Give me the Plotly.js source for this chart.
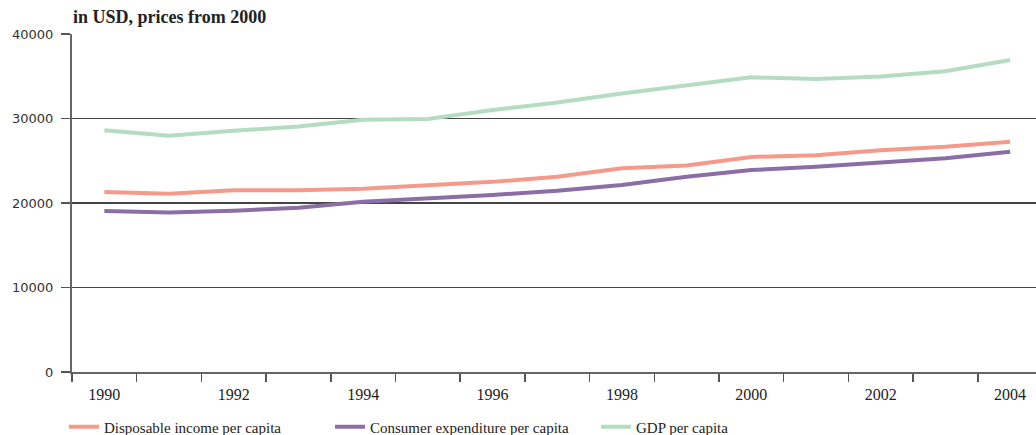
<!DOCTYPE html>
<html>
<head>
<meta charset="utf-8">
<script src="https://cdn.plot.ly/plotly-3.0.1.min.js"></script>
<style>html,body{margin:0;padding:0;background:#fff;}#chart{width:1036px;height:435px;}</style>
</head>
<body>
<div id="chart"></div>
<script>
const years = [1990,1991,1992,1993,1994,1995,1996,1997,1998,1999,2000,2001,2002,2003,2004];
const disposableIncome = [21300,21100,21500,21500,21700,22100,22500,23100,24100,24450,25450,25650,26250,26650,27250];
const consumerExpenditure = [19050,18870,19090,19450,20150,20500,20950,21450,22130,23100,23900,24300,24750,25300,26070];
const gdpPerCapita = [28600,27950,28550,29050,29850,29950,31000,31900,32950,33900,34870,34680,34970,35600,36920];
const seriesNames = ["Disposable income per capita","Consumer expenditure per capita","GDP per capita"];
const yTickVals = [0,10000,20000,30000,40000];
const yTickText = ["0","10000","20000","30000","40000"];
const xLabelYears = [1990,1992,1994,1996,1998,2000,2002,2004];
const xTickBounds = [1989.5,1990.5,1991.5,1992.5,1993.5,1994.5,1995.5,1996.5,1997.5,1998.5,1999.5,2000.5,2001.5,2002.5,2003.5];
const titleText = "in USD, prices from 2000";

const colors = ["#f59a8a","#8b6ea6","#b3dcc0"];
const serif = "Liberation Serif, serif";
const xRange = [1989.5, 2004.4];

const traces = [disposableIncome, consumerExpenditure, gdpPerCapita].map((v,i)=>({
  x: years, y: v, type: "scatter", mode: "lines", name: seriesNames[i],
  line: {color: colors[i], width: 4}
}));
traces.push({x: years, y: years.map(()=>null), xaxis: "x2", type: "scatter", mode: "lines", showlegend: false, hoverinfo: "skip"});

const layout = {
  width: 1036, height: 435,
  margin: {l: 72, r: 0, t: 34, b: 63},
  paper_bgcolor: "#fff", plot_bgcolor: "#fff",
  showlegend: true,
  title: {text: titleText, x: 73/1036, xanchor: "left", xref: "container", y: 1-17/435, yanchor: "middle", yref: "container",
          font: {family: serif, size: 18, color: "#222", weight: "bold"}},
  xaxis: {
    type: "linear", range: xRange, tickvals: xTickBounds, showticklabels: false,
    ticks: "outside", ticklen: 8, tickcolor: "#555", tickwidth: 1.5,
    showline: true, linecolor: "#666", linewidth: 2, showgrid: false, zeroline: false
  },
  xaxis2: {
    type: "linear", range: xRange, overlaying: "x", side: "bottom", anchor: "y",
    tickvals: xLabelYears, ticktext: xLabelYears.map(String),
    ticks: "outside", ticklen: 8, tickcolor: "rgba(0,0,0,0)",
    tickfont: {family: serif, size: 16, color: "#222"},
    showline: false, showgrid: false, zeroline: false
  },
  yaxis: {
    range: [0, 40000], tickvals: yTickVals, ticktext: yTickText,
    ticks: "outside", ticklen: 9, tickcolor: "#555", tickwidth: 1.5,
    ticklabelstandoff: 5,
    tickfont: {family: "DejaVu Sans, sans-serif", size: 13, color: "#333"},
    showgrid: true, gridcolor: "#444", gridwidth: 1.2,
    showline: true, linecolor: "#666", linewidth: 2, zeroline: false
  },
  legend: {
    orientation: "h", x: 64/1036, xanchor: "left", xref: "container",
    y: 1-427/435, yanchor: "middle", yref: "container",
    font: {family: serif, size: 15, color: "#222"},
    entrywidth: 221, entrywidthmode: "pixels", traceorder: "normal",
    bgcolor: "rgba(0,0,0,0)"
  }
};

Plotly.newPlot("chart", traces, layout, {displayModeBar: false, staticPlot: true});
</script>
</body>
</html>
